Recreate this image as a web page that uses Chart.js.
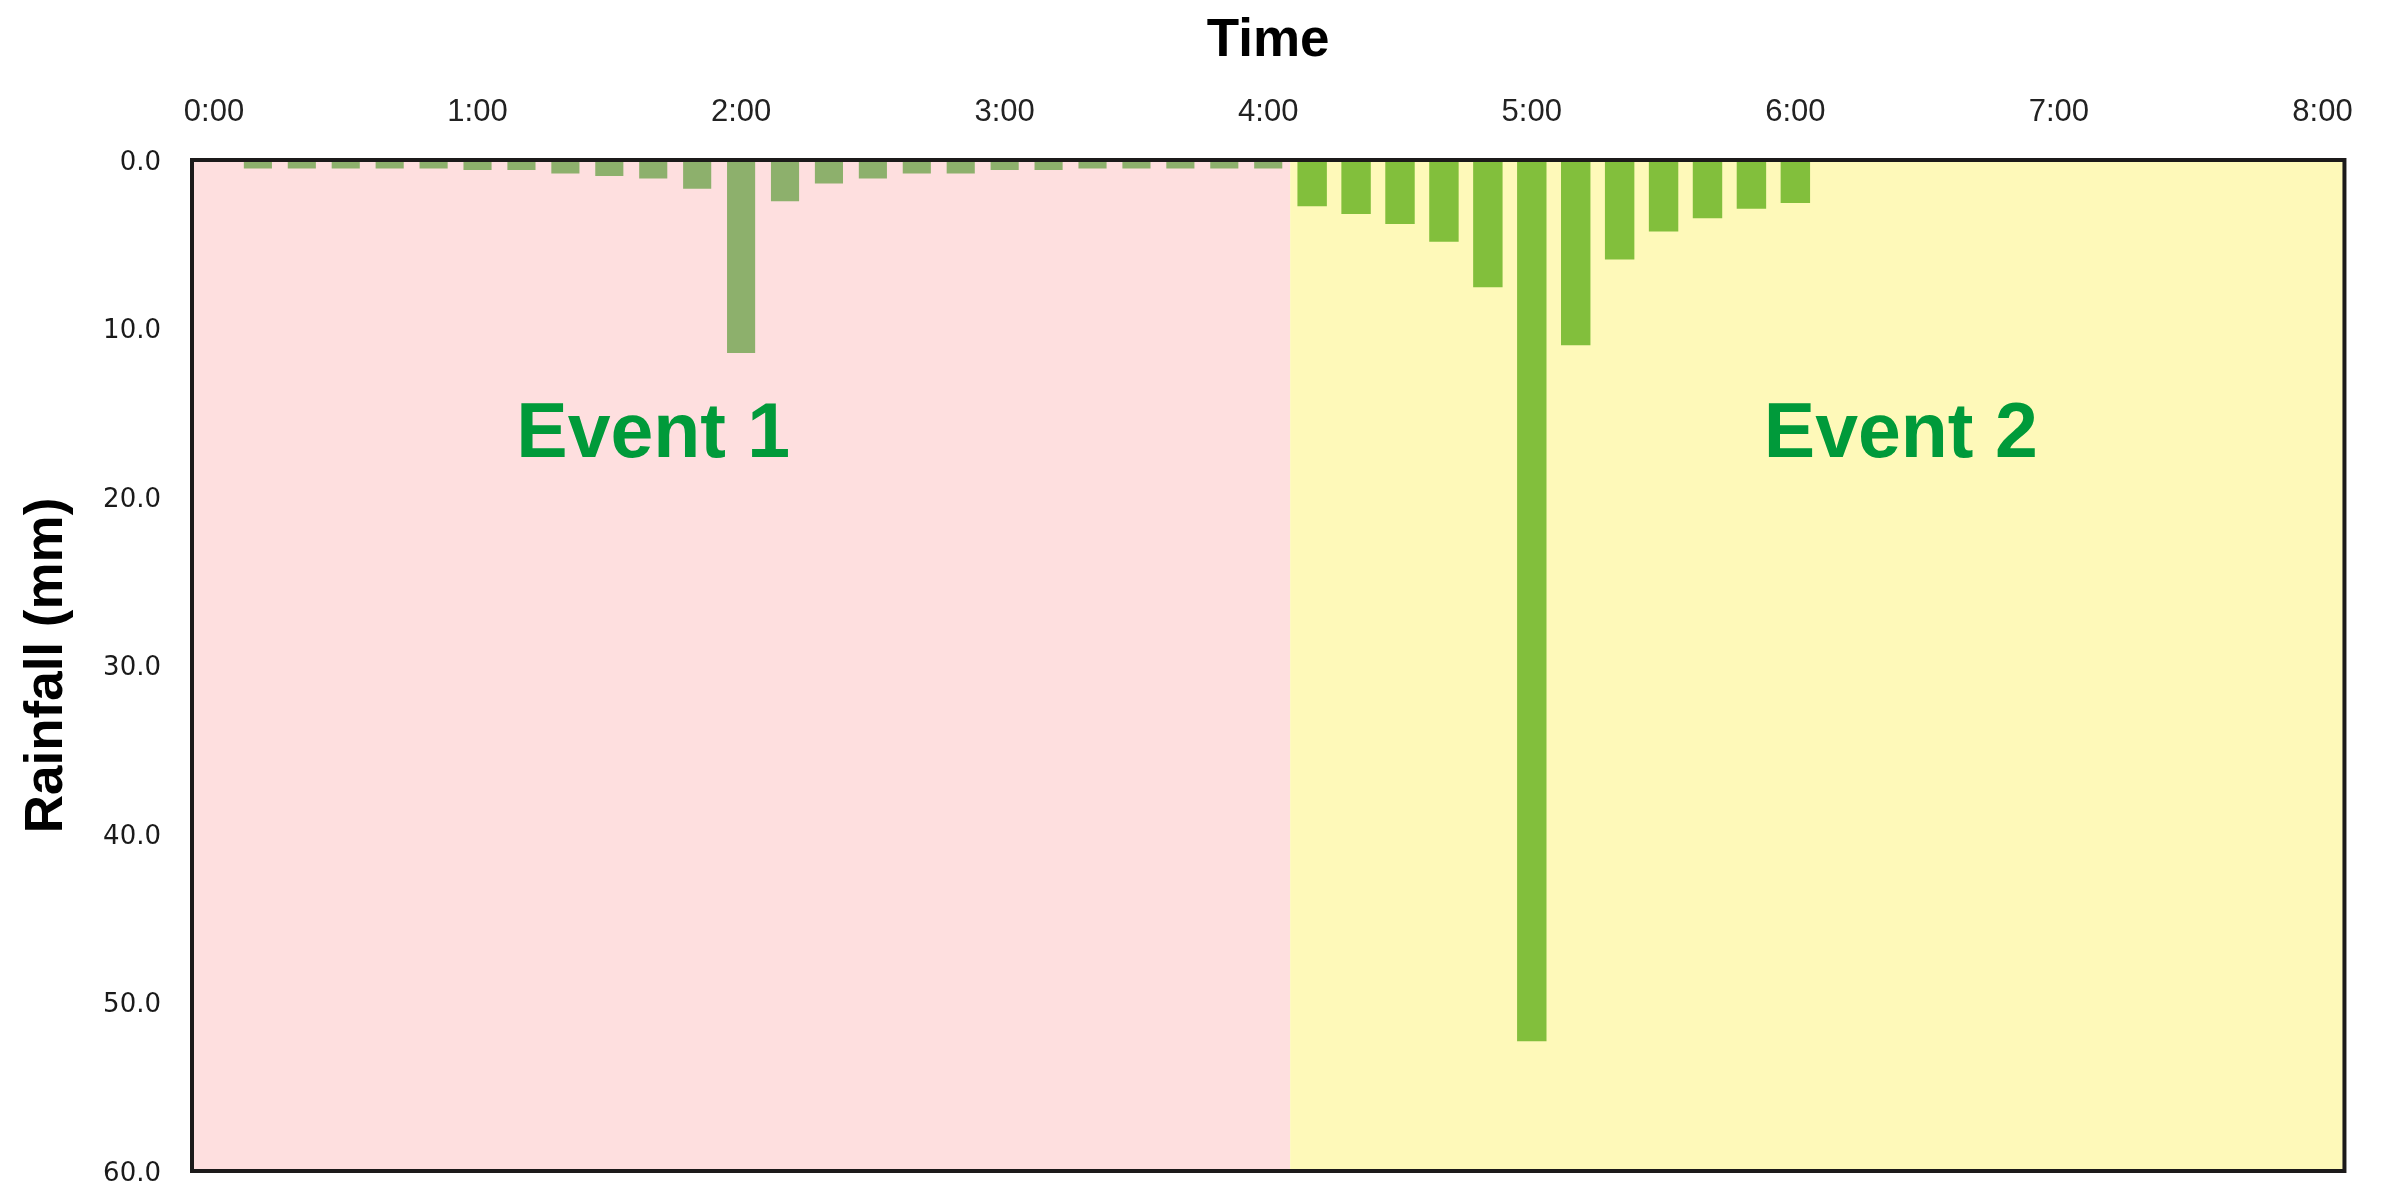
<!DOCTYPE html>
<html>
<head>
<meta charset="utf-8">
<title>Rainfall events</title>
<script src="https://cdn.jsdelivr.net/npm/chart.js@4.4.1/dist/chart.umd.min.js"></script>
<style>
  html, body { margin: 0; padding: 0; background: #fff; }
  canvas { display: block; }
</style>
</head>
<body>
<canvas id="rainChart" width="2382" height="1204"></canvas>
<script>
// 10 minute time steps, only the full hours get a label
const timeLabels = [
  '0:00', '0:10', '0:20', '0:30', '0:40', '0:50',
  '1:00', '1:10', '1:20', '1:30', '1:40', '1:50',
  '2:00', '2:10', '2:20', '2:30', '2:40', '2:50',
  '3:00', '3:10', '3:20', '3:30', '3:40', '3:50',
  '4:00', '4:10', '4:20', '4:30', '4:40', '4:50',
  '5:00', '5:10', '5:20', '5:30', '5:40', '5:50',
  '6:00', '6:10', '6:20', '6:30', '6:40', '6:50',
  '7:00', '7:10', '7:20', '7:30', '7:40', '7:50',
  '8:00'
];

const event1Times = [
  '0:10', '0:20', '0:30', '0:40', '0:50', '1:00', '1:10', '1:20',
  '1:30', '1:40', '1:50', '2:00', '2:10', '2:20', '2:30', '2:40',
  '2:50', '3:00', '3:10', '3:20', '3:30', '3:40', '3:50', '4:00'
];
const event1Rain = [
  0.5, 0.5, 0.5, 0.5, 0.5, 0.6, 0.6, 0.8,
  0.95, 1.1, 1.7, 11.45, 2.45, 1.4, 1.1, 0.8,
  0.8, 0.6, 0.6, 0.5, 0.5, 0.5, 0.5, 0.5
];

const event2Times = [
  '4:10', '4:20', '4:30', '4:40', '4:50', '5:00',
  '5:10', '5:20', '5:30', '5:40', '5:50', '6:00'
];
const event2Rain = [
  2.75, 3.2, 3.8, 4.85, 7.55, 52.3,
  11.0, 5.9, 4.25, 3.45, 2.9, 2.55
];

const rainTicks = [0, 10, 20, 30, 40, 50, 60];

const eventNames = ['Event 1', 'Event 2'];
const eventTextX = [10, 38.4];   // position in time steps
const eventTextY = [16, 16];     // position in mm
const lastEvent1Time = '4:00';

const pink = '#fedfdf';
const yellow = '#fef9b9';

const toPoints = (times, values) => times.map((t, i) => ({ x: t, y: values[i] }));

const backgroundPlugin = {
  id: 'eventBackground',
  beforeDatasetsDraw(chart) {
    const { ctx, chartArea, scales } = chart;
    const idx = timeLabels.indexOf(lastEvent1Time);
    const split = (scales.x.getPixelForValue(idx) + scales.x.getPixelForValue(idx + 1)) / 2;
    ctx.save();
    ctx.fillStyle = pink;
    ctx.fillRect(chartArea.left, chartArea.top, split - chartArea.left, chartArea.bottom - chartArea.top);
    ctx.fillStyle = yellow;
    ctx.fillRect(split, chartArea.top, chartArea.right - split, chartArea.bottom - chartArea.top);
    ctx.restore();
  },
  afterDatasetsDraw(chart) {
    const { ctx, chartArea, scales } = chart;
    ctx.save();
    const size = 77;
    ctx.font = 'bold ' + size + 'px "Liberation Sans", Arial, sans-serif';
    ctx.fillStyle = '#009a3a';
    ctx.textAlign = 'center';
    ctx.textBaseline = 'alphabetic';
    eventNames.forEach((name, i) => {
      const x = scales.x.getPixelForValue(eventTextX[i]);
      const y = scales.y.getPixelForValue(eventTextY[i]) + size * 0.358;
      ctx.fillText(name, x, y);
    });
    // frame around the plot area
    ctx.strokeStyle = '#1c1a1a';
    ctx.lineWidth = 4;
    ctx.strokeRect(chartArea.left, chartArea.top, chartArea.right - chartArea.left, chartArea.bottom - chartArea.top);
    ctx.restore();
  }
};

const ctx = document.getElementById('rainChart').getContext('2d');

const rainChart = new Chart(ctx, {
  type: 'bar',
  data: {
    labels: timeLabels,
    datasets: [
      {
        label: 'Event 1',
        data: toPoints(event1Times, event1Rain),
        backgroundColor: '#8db06c',
        grouped: false,
        barPercentage: 0.64,
        categoryPercentage: 1
      },
      {
        label: 'Event 2',
        data: toPoints(event2Times, event2Rain),
        backgroundColor: '#82bf3c',
        grouped: false,
        barPercentage: 0.67,
        categoryPercentage: 1
      }
    ]
  },
  options: {
    responsive: false,
    animation: false,
    devicePixelRatio: 1,
    layout: { padding: { left: 0, top: 0, right: 34, bottom: 33 } },
    plugins: {
      legend: { display: false },
      tooltip: { enabled: false }
    },
    scales: {
      x: {
        position: 'top',
        offset: true,
        grid: { display: false, drawTicks: false },
        border: { display: false },
        ticks: {
          autoSkip: false,
          maxRotation: 0,
          padding: 29,
          color: '#222',
          font: { family: '"Liberation Sans", Arial, sans-serif', size: 31 },
          callback: (val, i) => (i % 6 === 0 ? timeLabels[i] : '')
        },
        title: {
          display: true,
          text: 'Time',
          color: '#000',
          padding: { top: 10, bottom: 0 },
          font: { family: '"Liberation Sans", Arial, sans-serif', size: 53, weight: 'bold' }
        },
        afterFit: (scale) => { scale.height = 160; }
      },
      y: {
        reverse: true,
        min: 0,
        max: 60,
        grid: { display: false, drawTicks: false },
        border: { display: false },
        afterBuildTicks: (scale) => { scale.ticks = rainTicks.map(v => ({ value: v })); },
        ticks: {
          padding: 31,
          labelOffset: 3,
          color: '#1a1a1a',
          font: { family: '"DejaVu Sans", Verdana, sans-serif', size: 26 },
          callback: (v) => Number(v).toFixed(1)
        },
        title: {
          display: true,
          text: 'Rainfall (mm)',
          color: '#000',
          padding: { top: 16, bottom: 0 },
          font: { family: '"Liberation Sans", Arial, sans-serif', size: 53, weight: 'bold' }
        },
        afterFit: (scale) => {
          scale.width = 192;
          scale.paddingTop = 0;
          scale.paddingBottom = 0;
        }
      }
    }
  },
  plugins: [backgroundPlugin]
});
</script>
</body>
</html>
